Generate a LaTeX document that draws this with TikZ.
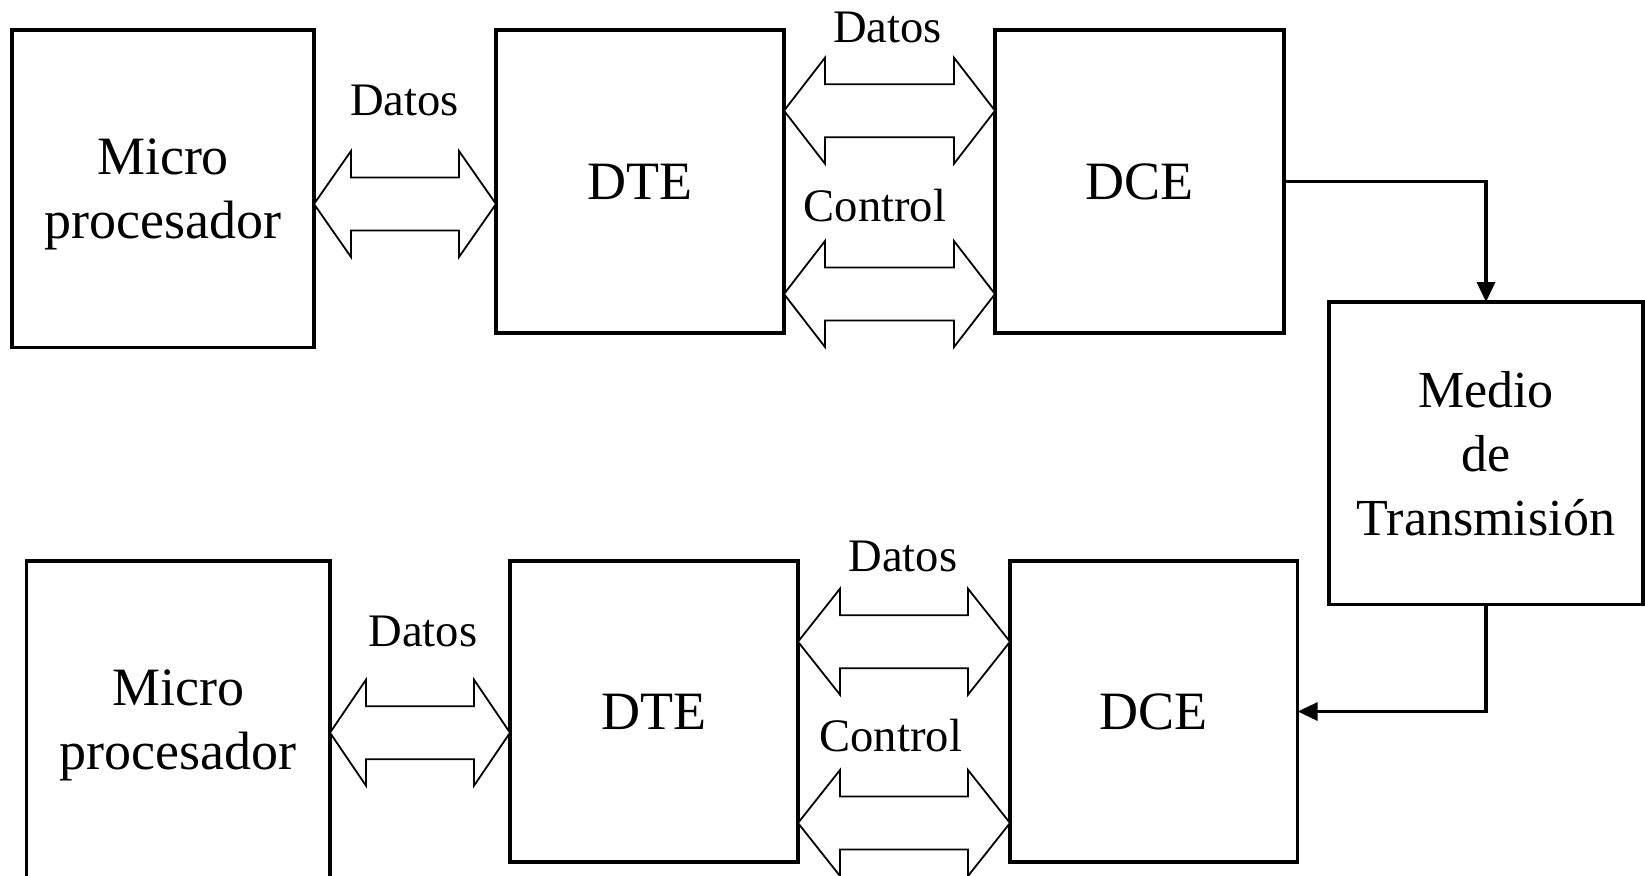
\documentclass[tikz,border=0pt]{standalone}
\usepackage{fontspec}
\setmainfont{Liberation Serif}
\usetikzlibrary{calc,arrows.meta}
\newcommand\dblarrowpath[3]{%
  \draw[dblarr] (#1) -- ($(#1)+(#3,-53)$) -- ($(#1)+(#3,-26.5)$) -- ($(#2)+(-#3,-26.5)$) -- ($(#2)+(-#3,-53)$) -- (#2)
    -- ($(#2)+(-#3,53)$) -- ($(#2)+(-#3,26.5)$) -- ($(#1)+(#3,26.5)$) -- ($(#1)+(#3,53)$) -- cycle;}
\begin{document}
\begin{tikzpicture}[x=0.5pt,y=-0.5pt,
  box/.style={draw, line width=1.75pt, rectangle, inner sep=0pt, outer sep=0pt, align=center, font=\fontsize{27}{32}\selectfont},
  lbl/.style={font=\fontsize{23.3}{28}\selectfont, inner sep=0pt, anchor=base},
  dblarr/.style={draw, fill=white, line width=0.9pt, line join=miter},
  conn/.style={line width=1.75pt, -{Triangle[length=10pt,width=9pt]}}]
\path[use as bounding box, clip] (0,0) rectangle (1645,875);
\fill[white] (0,0) rectangle (1645,875);
% top row
\node[box, minimum width=151pt, minimum height=158.75pt, text depth=0pt] (m1) at (163,188.75) {Micro\\procesador};
\node[box, minimum width=144pt, minimum height=151.5pt] (dte1) at (640,181.5) {DTE};
\node[box, minimum width=144.5pt, minimum height=151.5pt] (dce1) at (1139.5,181.5) {DCE};
\node[box, font=\fontsize{26}{32}\selectfont, minimum width=157pt, minimum height=151.35pt, text depth=0pt] (medio) at (1486,453.35) {Medio\\de\\Transmisión};
% bottom row
\node[box, minimum width=151.65pt, minimum height=158.75pt, text depth=0pt] (m2) at (178.35,719.75) {Micro\\procesador};
\node[box, minimum width=144pt, minimum height=150.5pt] (dte2) at (654,711.5) {DTE};
\node[box, minimum width=143.85pt, minimum height=150.5pt] (dce2) at (1153.85,711.5) {DCE};
% labels
\node[lbl] (d1) at (404.5,115.7) {Datos};
\node[lbl] (d2) at (887.5,42) {Datos};
\node[lbl] (c1) at (875,221.7) {Control};
\node[lbl] (d3) at (423,646.7) {Datos};
\node[lbl] (d4) at (903,571.7) {Datos};
\node[lbl] (c2) at (890.8,751.7) {Control};
% double arrows
\coordinate (a1l) at (m1.east |- 0,204);   \coordinate (a1r) at (dte1.west |- 0,204);
\coordinate (a2l) at (dte1.east |- 0,110.7); \coordinate (a2r) at (dce1.west |- 0,110.7);
\coordinate (a3l) at (dte1.east |- 0,294); \coordinate (a3r) at (dce1.west |- 0,294);
\coordinate (b1l) at (m2.east |- 0,732.7); \coordinate (b1r) at (dte2.west |- 0,732.7);
\coordinate (b2l) at (dte2.east |- 0,641.7); \coordinate (b2r) at (dce2.west |- 0,641.7);
\coordinate (b3l) at (dte2.east |- 0,823); \coordinate (b3r) at (dce2.west |- 0,823);
\dblarrowpath{a1l}{a1r}{37}
\dblarrowpath{a2l}{a2r}{41}
\dblarrowpath{a3l}{a3r}{41}
\dblarrowpath{b1l}{b1r}{36}
\dblarrowpath{b2l}{b2r}{42}
\dblarrowpath{b3l}{b3r}{42}
% connectors
\draw[conn] (dce1.east) -| (medio.north);
\draw[conn] (medio.south) |- (dce2.east);
\end{tikzpicture}
\end{document}
